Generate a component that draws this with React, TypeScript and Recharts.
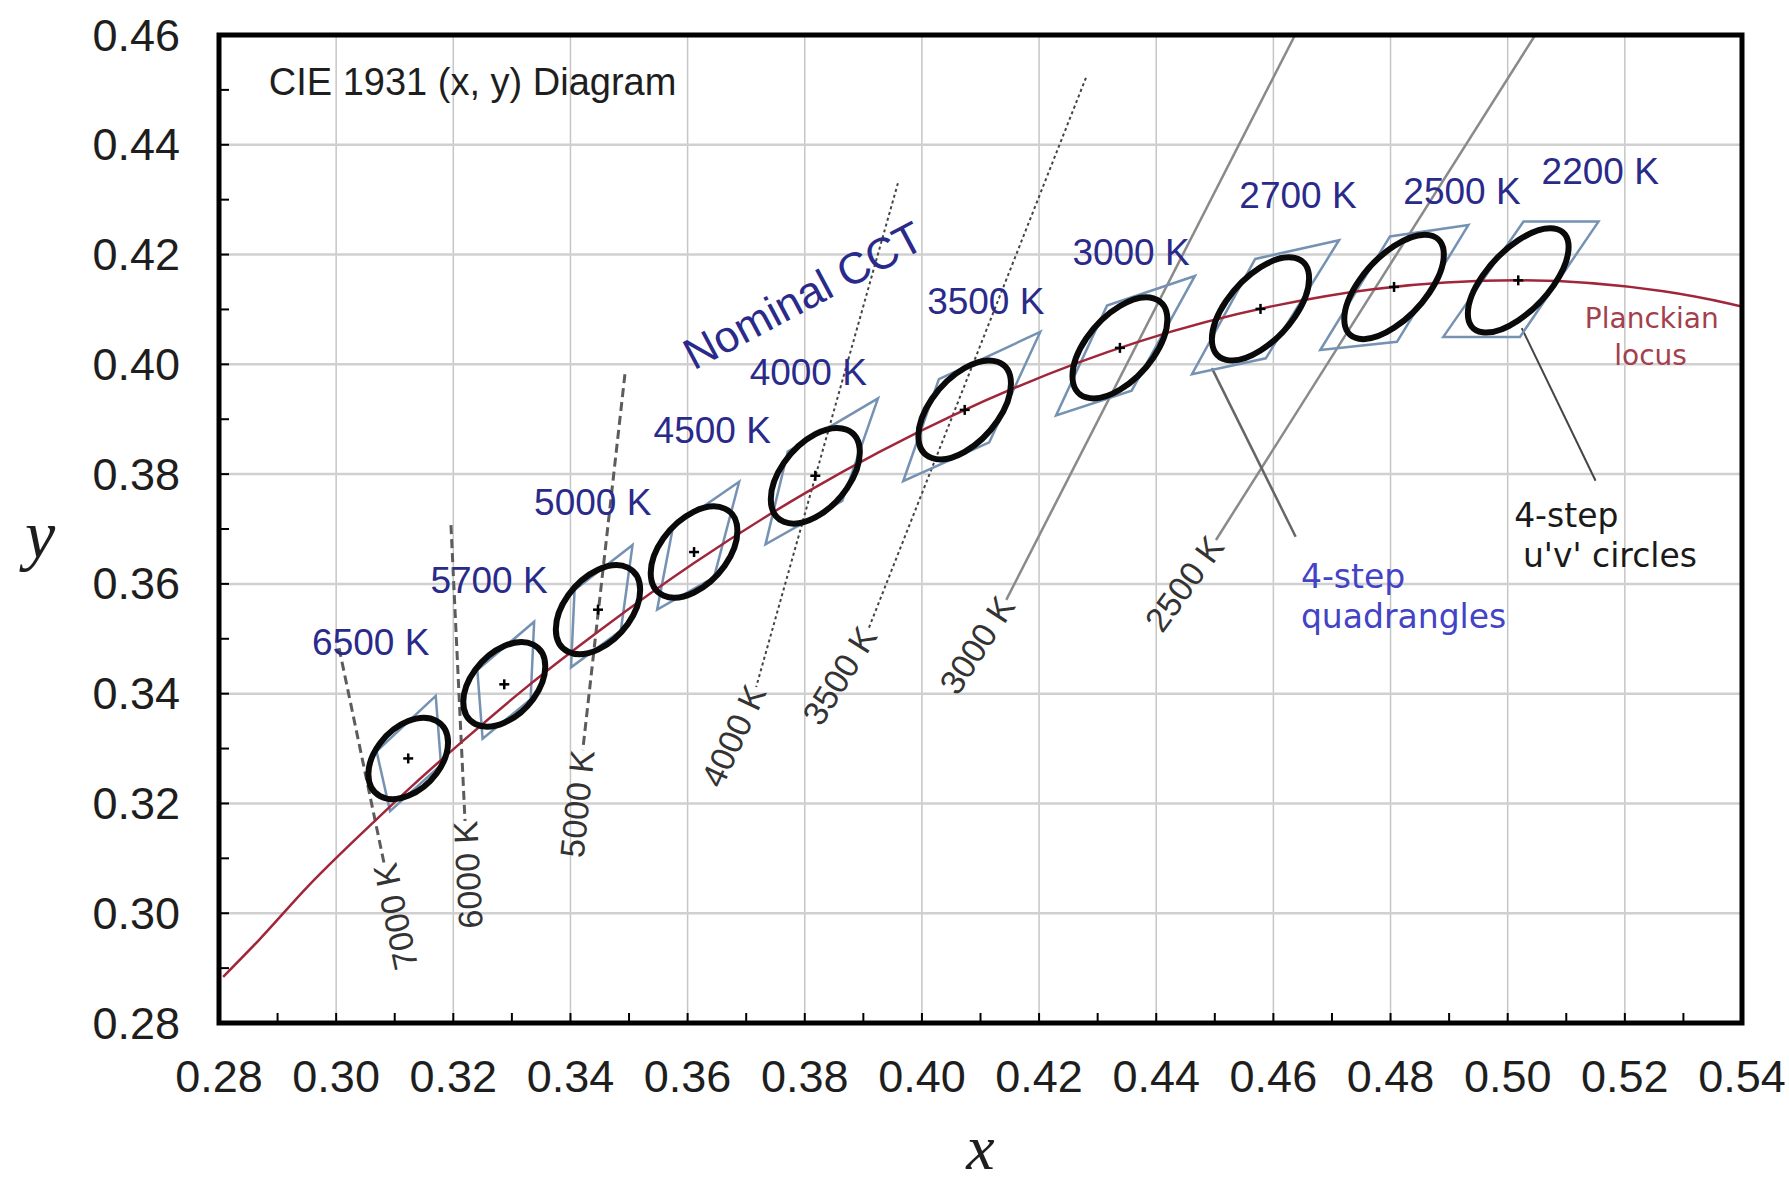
import React from "react";
import {
  ComposedChart,
  Line,
  Scatter,
  XAxis,
  YAxis,
  ReferenceLine,
  ReferenceArea,
  Label,
} from "recharts";

const W = 1789;
const H = 1187;
const MARGIN = { top: 35, right: 47, bottom: 0, left: 0 };
const Y_AXIS_W = 219;
const X_AXIS_H = 164;
const X_DOMAIN: [number, number] = [0.28, 0.54];
const Y_DOMAIN: [number, number] = [0.28, 0.46];

const X_TICKS = [
  0.28, 0.29, 0.3, 0.31, 0.32, 0.33, 0.34, 0.35, 0.36, 0.37, 0.38, 0.39, 0.4,
  0.41, 0.42, 0.43, 0.44, 0.45, 0.46, 0.47, 0.48, 0.49, 0.5, 0.51, 0.52, 0.53,
  0.54,
];
const Y_TICKS = [
  0.28, 0.29, 0.3, 0.31, 0.32, 0.33, 0.34, 0.35, 0.36, 0.37, 0.38, 0.39, 0.4,
  0.41, 0.42, 0.43, 0.44, 0.45, 0.46,
];
const X_GRID = [0.3, 0.32, 0.34, 0.36, 0.38, 0.4, 0.42, 0.44, 0.46, 0.48, 0.5, 0.52];
const Y_GRID = [0.3, 0.32, 0.34, 0.36, 0.38, 0.4, 0.42, 0.44];

// Planckian locus (10000 K ... 1800 K)
const LOCUS_X = [
  0.2807, 0.2869, 0.2951, 0.3064, 0.3135, 0.3221, 0.3324, 0.3451, 0.3611,
  0.3805, 0.4053, 0.4369, 0.4599, 0.477, 0.5018, 0.5266, 0.5496,
];
const LOCUS_Y = [
  0.2884, 0.2952, 0.3048, 0.3166, 0.3237, 0.3318, 0.3411, 0.3516, 0.3638,
  0.3768, 0.3907, 0.4041, 0.4106, 0.4137, 0.4153, 0.4133, 0.4081,
];

// nominal CCT centres
const CCT_NAMES = [
  "6500 K", "5700 K", "5000 K", "4500 K", "4000 K",
  "3500 K", "3000 K", "2700 K", "2500 K", "2200 K",
];
const CENTER_X = [0.3123, 0.3287, 0.3447, 0.3611, 0.3818, 0.4073, 0.4338, 0.4578, 0.4806, 0.5018];
const CENTER_Y = [0.3282, 0.3417, 0.3553, 0.3658, 0.3797, 0.3917, 0.403, 0.4101, 0.4141, 0.4153];

// 4-step u'v' circles seen in x,y: half extents and tilt
const CIRCLE_HX = [0.0068, 0.007, 0.0072, 0.0074, 0.0076, 0.0079, 0.0081, 0.0083, 0.0085, 0.0086];
const CIRCLE_HY = [0.0074, 0.0077, 0.0081, 0.0083, 0.0087, 0.009, 0.0092, 0.0094, 0.0095, 0.0095];
const CIRCLE_TILT = [0.39, 0.42, 0.44, 0.46, 0.49, 0.53, 0.56, 0.59, 0.62, 0.64];

// 4-step quadrangles, corners
const QUAD_X = [
  [0.317, 0.3069, 0.3092, 0.3179],
  [0.3338, 0.3241, 0.325, 0.3332],
  [0.3506, 0.3407, 0.3401, 0.3486],
  [0.3688, 0.3575, 0.3548, 0.3645],
  [0.3925, 0.3771, 0.3733, 0.3864],
  [0.4202, 0.4029, 0.3968, 0.4115],
  [0.4466, 0.4316, 0.4229, 0.4358],
  [0.4712, 0.4569, 0.4461, 0.4587],
  [0.4933, 0.4799, 0.468, 0.4811],
  [0.5155, 0.5027, 0.489, 0.5021],
];
const QUAD_Y = [
  [0.3396, 0.3295, 0.3186, 0.327],
  [0.3531, 0.3443, 0.3318, 0.339],
  [0.3671, 0.3589, 0.3448, 0.3515],
  [0.3786, 0.3703, 0.3553, 0.3612],
  [0.3938, 0.3841, 0.3672, 0.3751],
  [0.4059, 0.3973, 0.3787, 0.3858],
  [0.4161, 0.4107, 0.3907, 0.3952],
  [0.4226, 0.4192, 0.3982, 0.4011],
  [0.4254, 0.4233, 0.4026, 0.4041],
  [0.426, 0.426, 0.405, 0.405],
];

// isotemperature lines: upper end and lower end (where the label starts)
const ISO_NAMES = ["7000 K", "6000 K", "5000 K", "4000 K", "3500 K", "3000 K", "2500 K"];
const ISO_TOP_X = [0.3005, 0.3196, 0.3493, 0.3959, 0.428, 0.4637, 0.5047];
const ISO_TOP_Y = [0.3483, 0.3707, 0.3982, 0.433, 0.4522, 0.46, 0.46];
const ISO_END_X = [0.3082, 0.322, 0.3421, 0.3717, 0.3908, 0.4144, 0.4502];
const ISO_END_Y = [0.309, 0.3168, 0.3297, 0.3412, 0.3516, 0.3571, 0.368];

// leader lines
const LEADER_QUAD_X = [0.4495, 0.4638];
const LEADER_QUAD_Y = [0.3993, 0.3686];
const LEADER_CIRCLE_X = [0.5024, 0.515];
const LEADER_CIRCLE_Y = [0.4066, 0.3788];

// label anchors
const CCT_LABEL_X = [0.3059, 0.3261, 0.3438, 0.3642, 0.3806, 0.4109, 0.4357, 0.4642, 0.4922, 0.5158];
const CCT_LABEL_Y = [0.3494, 0.3607, 0.3749, 0.3879, 0.3986, 0.4115, 0.4203, 0.4307, 0.4314, 0.4352];

const NOTES = [
  { text: "CIE 1931 (x, y) Diagram", x: 0.2885, y: 0.4514, kind: "title" },
  { text: "Nominal CCT", x: 0.3797, y: 0.4126, kind: "nominal" },
  { text: "Planckian", x: 0.5246, y: 0.4084, kind: "locus" },
  { text: "locus", x: 0.5244, y: 0.4017, kind: "locus" },
  { text: "4-step", x: 0.5011, y: 0.3724, kind: "circles" },
  { text: "u'v' circles", x: 0.5026, y: 0.3651, kind: "circles" },
  { text: "4-step", x: 0.4647, y: 0.3614, kind: "quads" },
  { text: "quadrangles", x: 0.4647, y: 0.354, kind: "quads" },
];

const SANS = "'Liberation Sans', Arial, sans-serif";
const DEJAVU = "'DejaVu Sans', Verdana, sans-serif";
const SERIF = "'Liberation Serif', 'Times New Roman', serif";

const NOTE_STYLE: Record<string, any> = {
  title: { fontFamily: SANS, fontSize: 38, fill: "#1e1e1e", anchor: "start", rotate: 0 },
  nominal: { fontFamily: SANS, fontSize: 44, fill: "#2a2a8a", anchor: "middle", rotate: -28 },
  locus: { fontFamily: DEJAVU, fontSize: 28, fill: "#a3404c", anchor: "middle", rotate: 0 },
  circles: { fontFamily: DEJAVU, fontSize: 33, fill: "#1a1a1a", anchor: "start", rotate: 0 },
  quads: { fontFamily: DEJAVU, fontSize: 33, fill: "#4343c6", anchor: "start", rotate: 0 },
};

// line look and text tilt of each isotemperature label
const ISO_STYLE = [
  { stroke: "#5c5c5c", dash: "9 5", width: 3, angle: -102 },
  { stroke: "#5c5c5c", dash: "9 5", width: 3, angle: -93 },
  { stroke: "#5c5c5c", dash: "9 5", width: 3, angle: -84 },
  { stroke: "#444444", dash: "3 3", width: 2, angle: -65 },
  { stroke: "#444444", dash: "3 3", width: 2, angle: -58 },
  { stroke: "#8a8a8a", dash: undefined, width: 2.5, angle: -57 },
  { stroke: "#8a8a8a", dash: undefined, width: 2.5, angle: -54 },
];

const locusData = LOCUS_X.map((x, i) => ({ x, y: LOCUS_Y[i] }));
const quadData = QUAD_X.map((xs, i) => xs.map((x, j) => ({ x, y: QUAD_Y[i][j] })));
const centerData = CENTER_X.map((x, i) => ({ x, y: CENTER_Y[i] }));
const isoData = ISO_TOP_X.map((x, i) => [
  { x, y: ISO_TOP_Y[i] },
  { x: ISO_END_X[i], y: ISO_END_Y[i] },
]);
const isoLabelData = ISO_END_X.map((x, i) => ({
  x,
  y: ISO_END_Y[i],
  text: ISO_NAMES[i],
  angle: ISO_STYLE[i].angle,
}));
const cctLabelData = CCT_LABEL_X.map((x, i) => ({ x, y: CCT_LABEL_Y[i], text: CCT_NAMES[i] }));
const leaderQuad = LEADER_QUAD_X.map((x, i) => ({ x, y: LEADER_QUAD_Y[i] }));
const leaderCircle = LEADER_CIRCLE_X.map((x, i) => ({ x, y: LEADER_CIRCLE_Y[i] }));

const X_LABEL_GAP = 53;
const Y_LABEL_GAP = 39;
const MINOR = 10;

function XTick(props: any) {
  const { x, y, payload } = props;
  const v = payload.value as number;
  const axisY = y - X_LABEL_GAP;
  const major = Math.round(v * 100) % 2 === 0;
  return (
    <g>
      <line x1={x} x2={x} y1={axisY} y2={axisY - MINOR} stroke="#000" strokeWidth={2} />
      {major && (
        <text x={x} y={y} textAnchor="middle" dominantBaseline="central" fontFamily={SANS} fontSize={45} fill="#1e1e1e">
          {v.toFixed(2)}
        </text>
      )}
    </g>
  );
}

function YTick(props: any) {
  const { x, y, payload } = props;
  const v = payload.value as number;
  const axisX = x + Y_LABEL_GAP;
  const major = Math.round(v * 100) % 2 === 0;
  return (
    <g>
      <line x1={axisX} x2={axisX + MINOR} y1={y} y2={y} stroke="#000" strokeWidth={2} />
      {major && (
        <text x={x} y={y} textAnchor="end" dominantBaseline="central" fontFamily={SANS} fontSize={45} fill="#1e1e1e">
          {v.toFixed(2)}
        </text>
      )}
    </g>
  );
}

function tiltedEllipse(tilt: number) {
  return (p: any) => {
    const w = Math.abs(p.width);
    const h = Math.abs(p.height);
    const cx = Math.min(p.x, p.x + p.width) + w / 2;
    const cy = Math.min(p.y, p.y + p.height) + h / 2;
    const a = w / 2;
    const b = h / 2;
    const s = Math.sqrt(1 - tilt * tilt);
    return (
      <circle
        cx={0}
        cy={0}
        r={1}
        transform={`matrix(${a} ${-b * tilt} 0 ${-b * s} ${cx} ${cy})`}
        fill="none"
        stroke="#0a0a0a"
        strokeWidth={6}
        vectorEffect="non-scaling-stroke"
      />
    );
  };
}

function CenterMark(p: any) {
  const { cx, cy } = p;
  return (
    <g stroke="#000" strokeWidth={2.5}>
      <line x1={cx - 5} x2={cx + 5} y1={cy} y2={cy} />
      <line x1={cx} x2={cx} y1={cy - 5} y2={cy + 5} />
    </g>
  );
}

function CctLabel(p: any) {
  return (
    <text x={p.cx} y={p.cy} textAnchor="middle" dominantBaseline="central" fontFamily={SANS} fontSize={37} fill="#2a2a8a">
      {p.payload.text}
    </text>
  );
}

function IsoLabel(p: any) {
  const { cx, cy, payload } = p;
  return (
    <text
      x={cx}
      y={cy}
      transform={`rotate(${payload.angle} ${cx} ${cy})`}
      textAnchor="end"
      dominantBaseline="central"
      fontFamily={SANS}
      fontSize={34}
      fill="#333"
    >
      {payload.text}
    </text>
  );
}

function NoteLabel(p: any) {
  const { cx, cy, payload } = p;
  const st = NOTE_STYLE[payload.kind];
  return (
    <text
      x={cx}
      y={cy}
      transform={st.rotate ? `rotate(${st.rotate} ${cx} ${cy})` : undefined}
      textAnchor={st.anchor}
      dominantBaseline="central"
      fontFamily={st.fontFamily}
      fontSize={st.fontSize}
      fill={st.fill}
    >
      {payload.text}
    </text>
  );
}

export default function App() {
  return (
    <div style={{ position: "absolute", left: 0, top: 0, width: W, height: H, background: "#fff" }}>
      <ComposedChart width={W} height={H} margin={MARGIN}>
        <XAxis
          type="number"
          dataKey="x"
          domain={X_DOMAIN}
          allowDataOverflow
          ticks={X_TICKS}
          interval={0}
          height={X_AXIS_H}
          tickSize={0}
          tickMargin={X_LABEL_GAP}
          tickLine={false}
          axisLine={false}
          tick={<XTick />}
        >
          <Label
            content={(p: any) => (
              <text
                x={p.viewBox.x + p.viewBox.width / 2}
                y={p.viewBox.y + 146}
                textAnchor="middle"
                fontFamily={SERIF}
                fontStyle="italic"
                fontSize={64}
                fill="#1e1e1e"
              >
                x
              </text>
            )}
          />
        </XAxis>
        <YAxis
          type="number"
          dataKey="y"
          domain={Y_DOMAIN}
          allowDataOverflow
          ticks={Y_TICKS}
          interval={0}
          width={Y_AXIS_W}
          tickSize={0}
          tickMargin={Y_LABEL_GAP}
          tickLine={false}
          axisLine={false}
          tick={<YTick />}
        >
          <Label
            content={(p: any) => (
              <text
                x={p.viewBox.x + 40}
                y={p.viewBox.y + 523}
                textAnchor="middle"
                fontFamily={SERIF}
                fontStyle="italic"
                fontSize={68}
                fill="#1e1e1e"
              >
                y
              </text>
            )}
          />
        </YAxis>

        {X_GRID.map((v) => (
          <ReferenceLine key={`gx${v}`} x={v} stroke="#c6c6c6" strokeWidth={1.5} zIndex={-50} />
        ))}
        {Y_GRID.map((v) => (
          <ReferenceLine key={`gy${v}`} y={v} stroke="#d0d0d0" strokeWidth={2.5} zIndex={-50} />
        ))}

        {isoData.map((d, i) => (
          <Line
            key={`iso${i}`}
            data={d}
            dataKey="y"
            type="linear"
            stroke={ISO_STYLE[i].stroke}
            strokeWidth={ISO_STYLE[i].width}
            strokeDasharray={ISO_STYLE[i].dash}
            dot={false}
            activeDot={false}
            isAnimationActive={false}
          />
        ))}
        <Line data={leaderQuad} dataKey="y" type="linear" stroke="#666" strokeWidth={2.5} dot={false} activeDot={false} isAnimationActive={false} />
        <Line data={leaderCircle} dataKey="y" type="linear" stroke="#444" strokeWidth={2} dot={false} activeDot={false} isAnimationActive={false} />

        {quadData.map((d, i) => (
          <Line
            key={`quad${i}`}
            data={d}
            dataKey="y"
            type="linearClosed"
            stroke="#7592b2"
            strokeWidth={2.5}
            dot={false}
            activeDot={false}
            isAnimationActive={false}
          />
        ))}

        <Line
          data={locusData}
          dataKey="y"
          type="monotone"
          stroke="#a0263a"
          strokeWidth={2.5}
          dot={false}
          activeDot={false}
          isAnimationActive={false}
        />

        {CENTER_X.map((cx, i) => (
          <ReferenceArea
            key={`circ${i}`}
            x1={cx - CIRCLE_HX[i]}
            x2={cx + CIRCLE_HX[i]}
            y1={CENTER_Y[i] - CIRCLE_HY[i]}
            y2={CENTER_Y[i] + CIRCLE_HY[i]}
            ifOverflow="visible"
            zIndex={700}
            shape={tiltedEllipse(CIRCLE_TILT[i])}
          />
        ))}

        <Scatter data={centerData} shape={<CenterMark />} isAnimationActive={false} zIndex={750} />
        <Scatter data={cctLabelData} shape={<CctLabel />} isAnimationActive={false} zIndex={800} />
        <Scatter data={isoLabelData} shape={<IsoLabel />} isAnimationActive={false} zIndex={800} />
        <Scatter data={NOTES} shape={<NoteLabel />} isAnimationActive={false} zIndex={800} />

        <ReferenceArea
          x1={X_DOMAIN[0]}
          x2={X_DOMAIN[1]}
          y1={Y_DOMAIN[0]}
          y2={Y_DOMAIN[1]}
          fill="none"
          fillOpacity={0}
          stroke="#000"
          strokeWidth={5}
          ifOverflow="visible"
          zIndex={900}
        />
      </ComposedChart>
    </div>
  );
}
